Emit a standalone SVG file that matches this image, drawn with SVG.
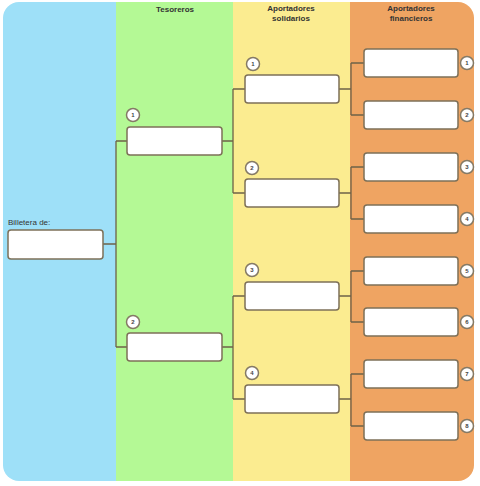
<svg xmlns="http://www.w3.org/2000/svg" width="480" height="486" viewBox="0 0 480 486">
<defs>
<clipPath id="panel"><rect x="3" y="2" width="471" height="479" rx="16"/></clipPath>
<style>
.box{fill:#ffffff;stroke:#7d7058;stroke-width:1.5}
.con{fill:none;stroke:#6e6248;stroke-width:1.3}
.hd{font-family:"Liberation Sans",Arial,sans-serif;font-size:8px;font-weight:bold;fill:#333;text-anchor:middle}
.lbl{font-family:"Liberation Sans",Arial,sans-serif;font-size:8px;fill:#333}
.num circle{fill:#ffffff;stroke:#857a66;stroke-width:1.5}
.num text{font-family:"Liberation Sans",Arial,sans-serif;font-size:6px;font-weight:bold;fill:#444;text-anchor:middle}
</style>
</defs>
<rect width="480" height="486" fill="#ffffff"/>
<g id="columns" clip-path="url(#panel)">
<rect x="3" y="2" width="113" height="479" fill="#9ee0f8"/>
<rect x="116" y="2" width="117" height="479" fill="#b4f995"/>
<rect x="233" y="2" width="117" height="479" fill="#fbec90"/>
<rect x="350" y="2" width="124" height="479" fill="#efa462"/>
</g>
<g id="headers">
<text class="hd" x="175" y="12">Tesoreros</text>
<text class="hd" x="291" y="11">Aportadores</text>
<text class="hd" x="291" y="21">solidarios</text>
<text class="hd" x="411" y="11">Aportadores</text>
<text class="hd" x="411" y="21">financieros</text>
</g>
<g id="connectors">
<path class="con" d="M103 244 H116 M116 141 V347 M116 141 H127 M116 347 H127"/>
<path class="con" d="M222 141 H233 M233 89 V193 M233 89 H245 M233 193 H245"/>
<path class="con" d="M222 347 H233 M233 296 V399 M233 296 H245 M233 399 H245"/>
<path class="con" d="M339 89 H351 M351 63 V115 M351 63 H364 M351 115 H364"/>
<path class="con" d="M339 193 H351 M351 167 V219 M351 167 H364 M351 219 H364"/>
<path class="con" d="M339 296 H351 M351 271 V322 M351 271 H364 M351 322 H364"/>
<path class="con" d="M339 399 H351 M351 374 V426 M351 374 H364 M351 426 H364"/>
</g>
<g id="billetera">
<text class="lbl" x="8" y="225">Billetera de:</text>
<rect class="box" x="8" y="230" width="95" height="29" rx="3"/>
</g>
<g id="tesorero-1">
<rect class="box" x="127" y="127" width="95" height="28" rx="3"/>
<g class="num"><circle cx="133" cy="115" r="6.5"/><text x="133" y="117">1</text></g>
</g>
<g id="tesorero-2">
<rect class="box" x="127" y="333" width="95" height="28" rx="3"/>
<g class="num"><circle cx="133" cy="322" r="6.5"/><text x="133" y="324">2</text></g>
</g>
<g id="solidario-1">
<rect class="box" x="245" y="75" width="94" height="28" rx="3"/>
<g class="num"><circle cx="253" cy="64" r="6.5"/><text x="253" y="66">1</text></g>
</g>
<g id="solidario-2">
<rect class="box" x="245" y="179" width="94" height="28" rx="3"/>
<g class="num"><circle cx="252" cy="168" r="6.5"/><text x="252" y="170">2</text></g>
</g>
<g id="solidario-3">
<rect class="box" x="245" y="282" width="94" height="28" rx="3"/>
<g class="num"><circle cx="252" cy="270" r="6.5"/><text x="252" y="272">3</text></g>
</g>
<g id="solidario-4">
<rect class="box" x="245" y="385" width="94" height="28" rx="3"/>
<g class="num"><circle cx="252" cy="373" r="6.5"/><text x="252" y="375">4</text></g>
</g>
<g id="financiero-1">
<rect class="box" x="364" y="49" width="94" height="28" rx="3"/>
<g class="num"><circle cx="467" cy="63" r="6.5"/><text x="467" y="65">1</text></g>
</g>
<g id="financiero-2">
<rect class="box" x="364" y="101" width="94" height="28" rx="3"/>
<g class="num"><circle cx="467" cy="115" r="6.5"/><text x="467" y="117">2</text></g>
</g>
<g id="financiero-3">
<rect class="box" x="364" y="153" width="94" height="28" rx="3"/>
<g class="num"><circle cx="467" cy="167" r="6.5"/><text x="467" y="169">3</text></g>
</g>
<g id="financiero-4">
<rect class="box" x="364" y="205" width="94" height="28" rx="3"/>
<g class="num"><circle cx="467" cy="219" r="6.5"/><text x="467" y="221">4</text></g>
</g>
<g id="financiero-5">
<rect class="box" x="364" y="257" width="94" height="28" rx="3"/>
<g class="num"><circle cx="467" cy="271" r="6.5"/><text x="467" y="273">5</text></g>
</g>
<g id="financiero-6">
<rect class="box" x="364" y="308" width="94" height="28" rx="3"/>
<g class="num"><circle cx="467" cy="322" r="6.5"/><text x="467" y="324">6</text></g>
</g>
<g id="financiero-7">
<rect class="box" x="364" y="360" width="94" height="28" rx="3"/>
<g class="num"><circle cx="467" cy="374" r="6.5"/><text x="467" y="376">7</text></g>
</g>
<g id="financiero-8">
<rect class="box" x="364" y="412" width="94" height="28" rx="3"/>
<g class="num"><circle cx="467" cy="426" r="6.5"/><text x="467" y="428">8</text></g>
</g>
</svg>
